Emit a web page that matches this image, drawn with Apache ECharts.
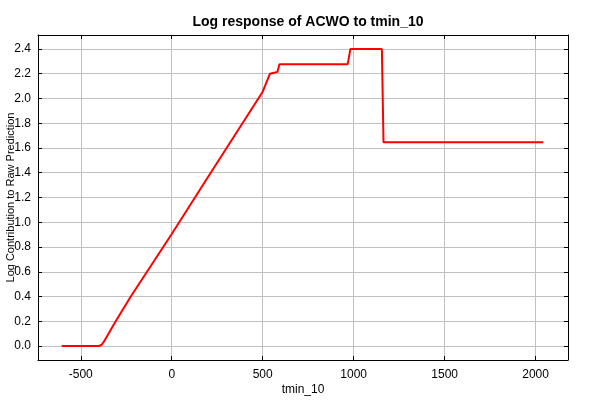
<!DOCTYPE html>
<html>
<head>
<meta charset="utf-8">
<script src="https://cdn.jsdelivr.net/npm/echarts@6/dist/echarts.min.js"></script>
<style>html,body{margin:0;padding:0;background:#fff}#c{width:600px;height:400px}</style>
</head>
<body>
<div id="c"></div>
<script>
// tmin_10 values (x) and log contribution (y)
const xValues = [-605, -400, -385, -373, -308, -225, 0, 210, 500, 540, 568, 581, 592, 967, 982, 1155, 1164, 2042];
const yValues = [0.0, 0.0, 0.01, 0.035, 0.2, 0.40, 0.905, 1.39, 2.055, 2.20, 2.21, 2.215, 2.276, 2.276, 2.40, 2.40, 1.646, 1.646];
const titleText = 'Log response of ACWO to tmin_10';
const xName = 'tmin_10';
const yName = 'Log Contribution to Raw Prediction';

const FONT = 'Liberation Sans';
const chart = echarts.init(document.getElementById('c'), null, {renderer: 'canvas'});
const pts = xValues.map((x, i) => [x, yValues[i]]);
const xMin = -735, xMax = 2178, yMin = -0.113, yMax = 2.513;
const lineBlack = {show: true, onZero: false, lineStyle: {color: '#000', width: 1}};
const tick = {show: true, inside: true, length: 4, lineStyle: {color: '#000'}};
chart.setOption({
  backgroundColor: '#fff',
  animation: false,
  title: {text: titleText, left: 303, textAlign: 'center', top: 10,
    textStyle: {fontFamily: FONT, fontSize: 14, fontWeight: 'bold', color: '#000'}},
  grid: {left: 38, right: 32, top: 35, bottom: 40, containLabel: false, outerBoundsMode: 'none'},
  xAxis: [{
    type: 'value', min: xMin, max: xMax, splitNumber: 5, position: 'bottom',
    name: xName, nameLocation: 'middle', nameGap: 24, nameMoveOverlap: false,
    nameTextStyle: {fontFamily: FONT, fontSize: 12, color: '#000'},
    axisLine: lineBlack, axisTick: tick,
    axisLabel: {fontFamily: FONT, fontSize: 12, color: '#000', margin: 9, showMinLabel: false, showMaxLabel: false,
      formatter: v => String(v)},
    splitLine: {show: true, lineStyle: {color: '#c0c0c0', width: 1}}
  }, {
    type: 'value', min: xMin, max: xMax, splitNumber: 5, position: 'top',
    axisLine: lineBlack, axisTick: tick,
    axisLabel: {show: false}, splitLine: {show: false}
  }],
  yAxis: [{
    type: 'value', min: yMin, max: yMax, splitNumber: 12, position: 'left',
    name: yName, nameLocation: 'middle', nameGap: 22, nameMoveOverlap: false,
    nameTextStyle: {fontFamily: FONT, fontSize: 11, color: '#000'},
    axisLine: lineBlack, axisTick: tick,
    axisLabel: {fontFamily: FONT, fontSize: 12, color: '#000', margin: 7, showMinLabel: false, showMaxLabel: false,
      formatter: v => v.toFixed(1)},
    splitLine: {show: true, lineStyle: {color: '#c0c0c0', width: 1}}
  }, {
    type: 'value', min: yMin, max: yMax, splitNumber: 12, position: 'right',
    axisLine: lineBlack, axisTick: tick,
    axisLabel: {show: false}, splitLine: {show: false}
  }],
  series: [{
    type: 'line', data: pts, xAxisIndex: 0, yAxisIndex: 0,
    showSymbol: false, symbol: 'none',
    lineStyle: {color: '#ff0000', width: 2}
  }]
});
</script>
</body>
</html>
